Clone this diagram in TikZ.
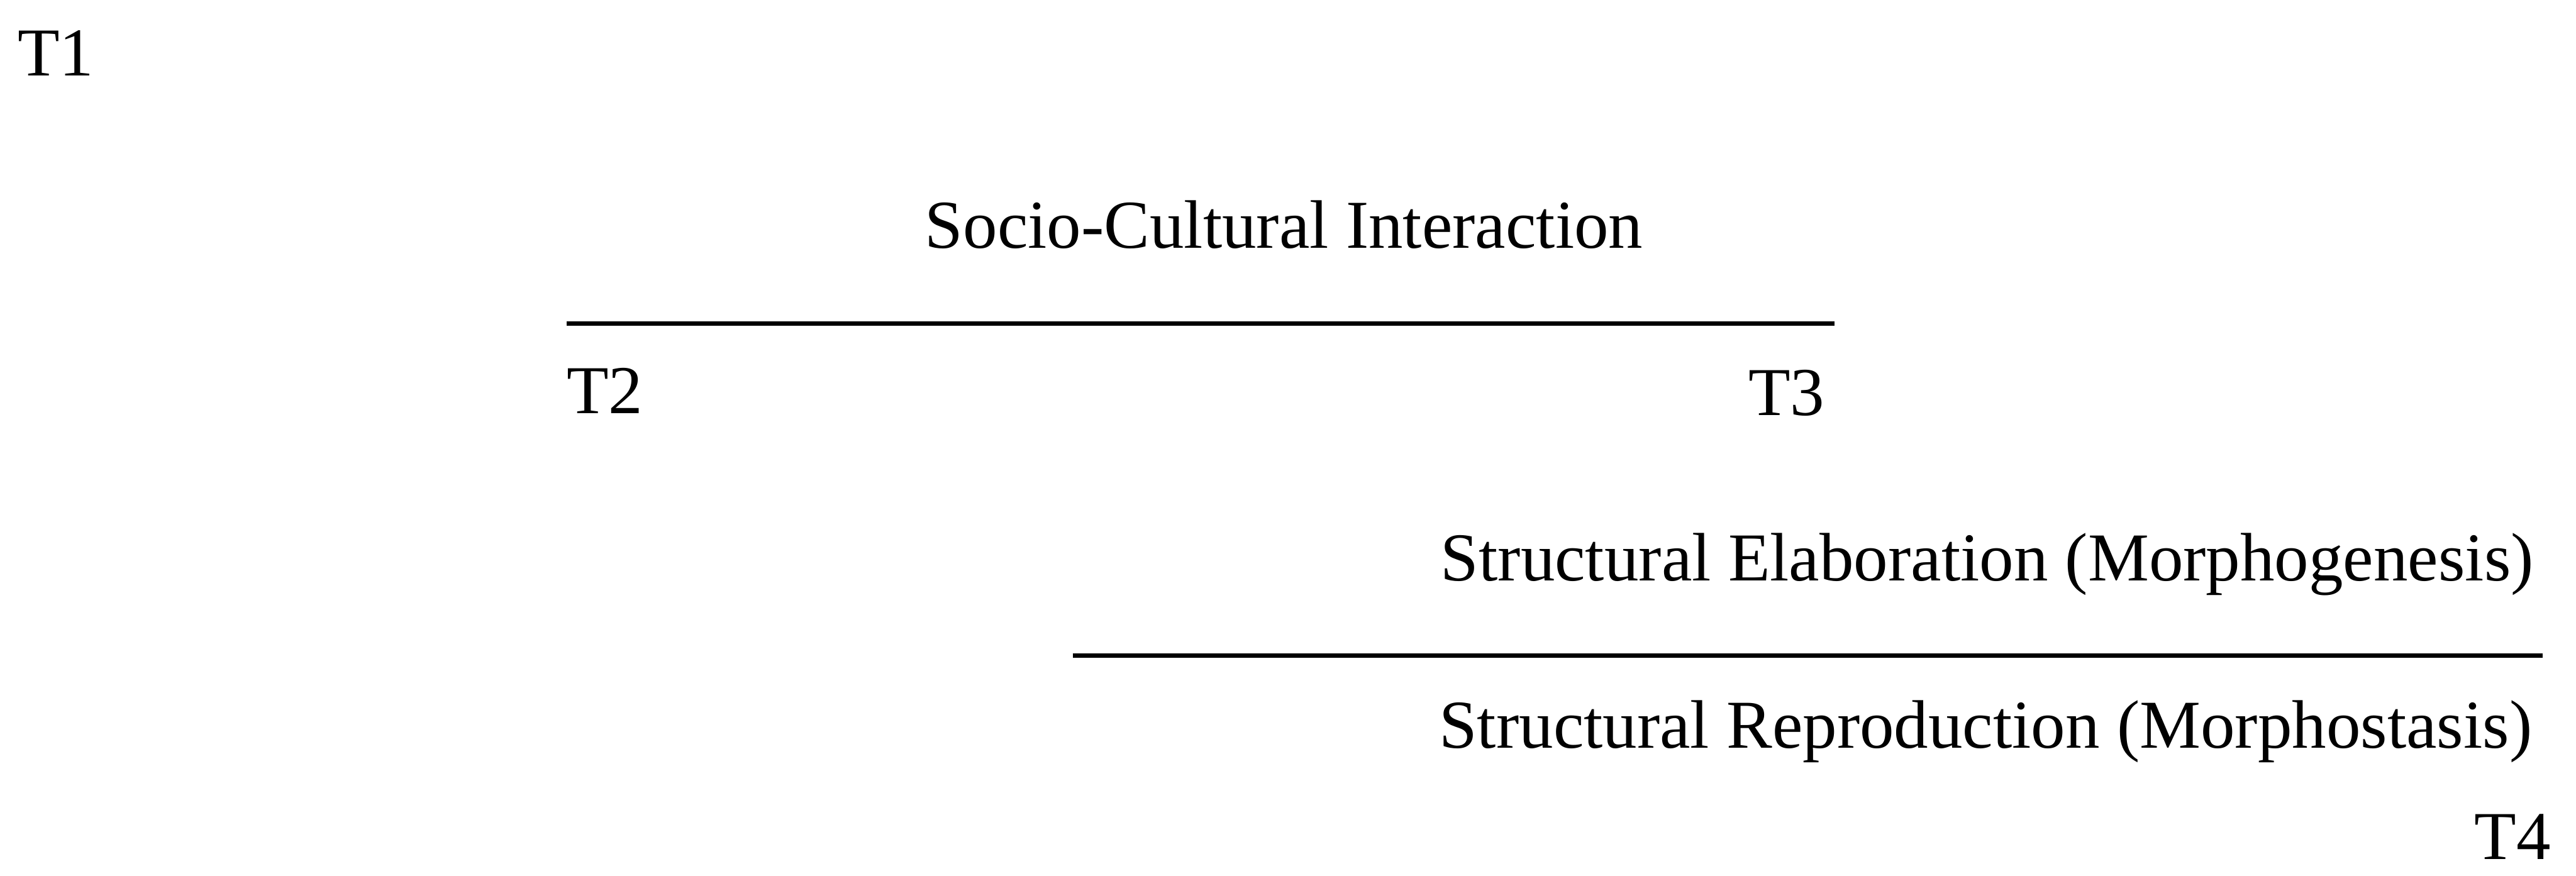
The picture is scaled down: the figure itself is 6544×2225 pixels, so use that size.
\documentclass[tikz,border=0pt]{standalone}
\usepackage{fontspec}
\setmainfont{Liberation Serif}
\usepackage{tikz}
\usetikzlibrary{positioning}

\begin{document}
\begin{tikzpicture}[
    x=0.0025cm, y=-0.0025cm,
    every node/.style={font=\fontsize{12.4}{15}\selectfont, inner sep=0pt, outer sep=0pt},
    phase/.style={anchor=base west},
    tick/.style={anchor=base west},
    rule/.style={line width=0.85pt, color=black}
]
\useasboundingbox (0,0) rectangle (6544,2225);

% TIME POINTS
\node[tick] (t1) at (45, 192)  {T1};
\node[tick] (t2) at (1440, 1050) {T2};
\node[tick, anchor=base east] (t3) at (4635, 1055) {T3};
\node[tick, anchor=base east] (t4) at (6480, 2184) {T4};

% PHASES
\node[phase] (interact) at (2350, 630)  {Socio-Cultural Interaction};
\node[phase] (elab)     at (3660, 1476) {Structural Elaboration (Morphogenesis)};
\node[phase] (repro)    at (3656, 1900) {Structural Reproduction (Morphostasis)};

% RULES
\coordinate (r1a) at (1440, 822);
\coordinate (r1b) at (4660, 822);
\coordinate (r2a) at (2725, 1666);
\coordinate (r2b) at (6460, 1666);
\draw[rule] (r1a) -- (r1b);
\draw[rule] (r2a) -- (r2b);

\end{tikzpicture}
\end{document}
